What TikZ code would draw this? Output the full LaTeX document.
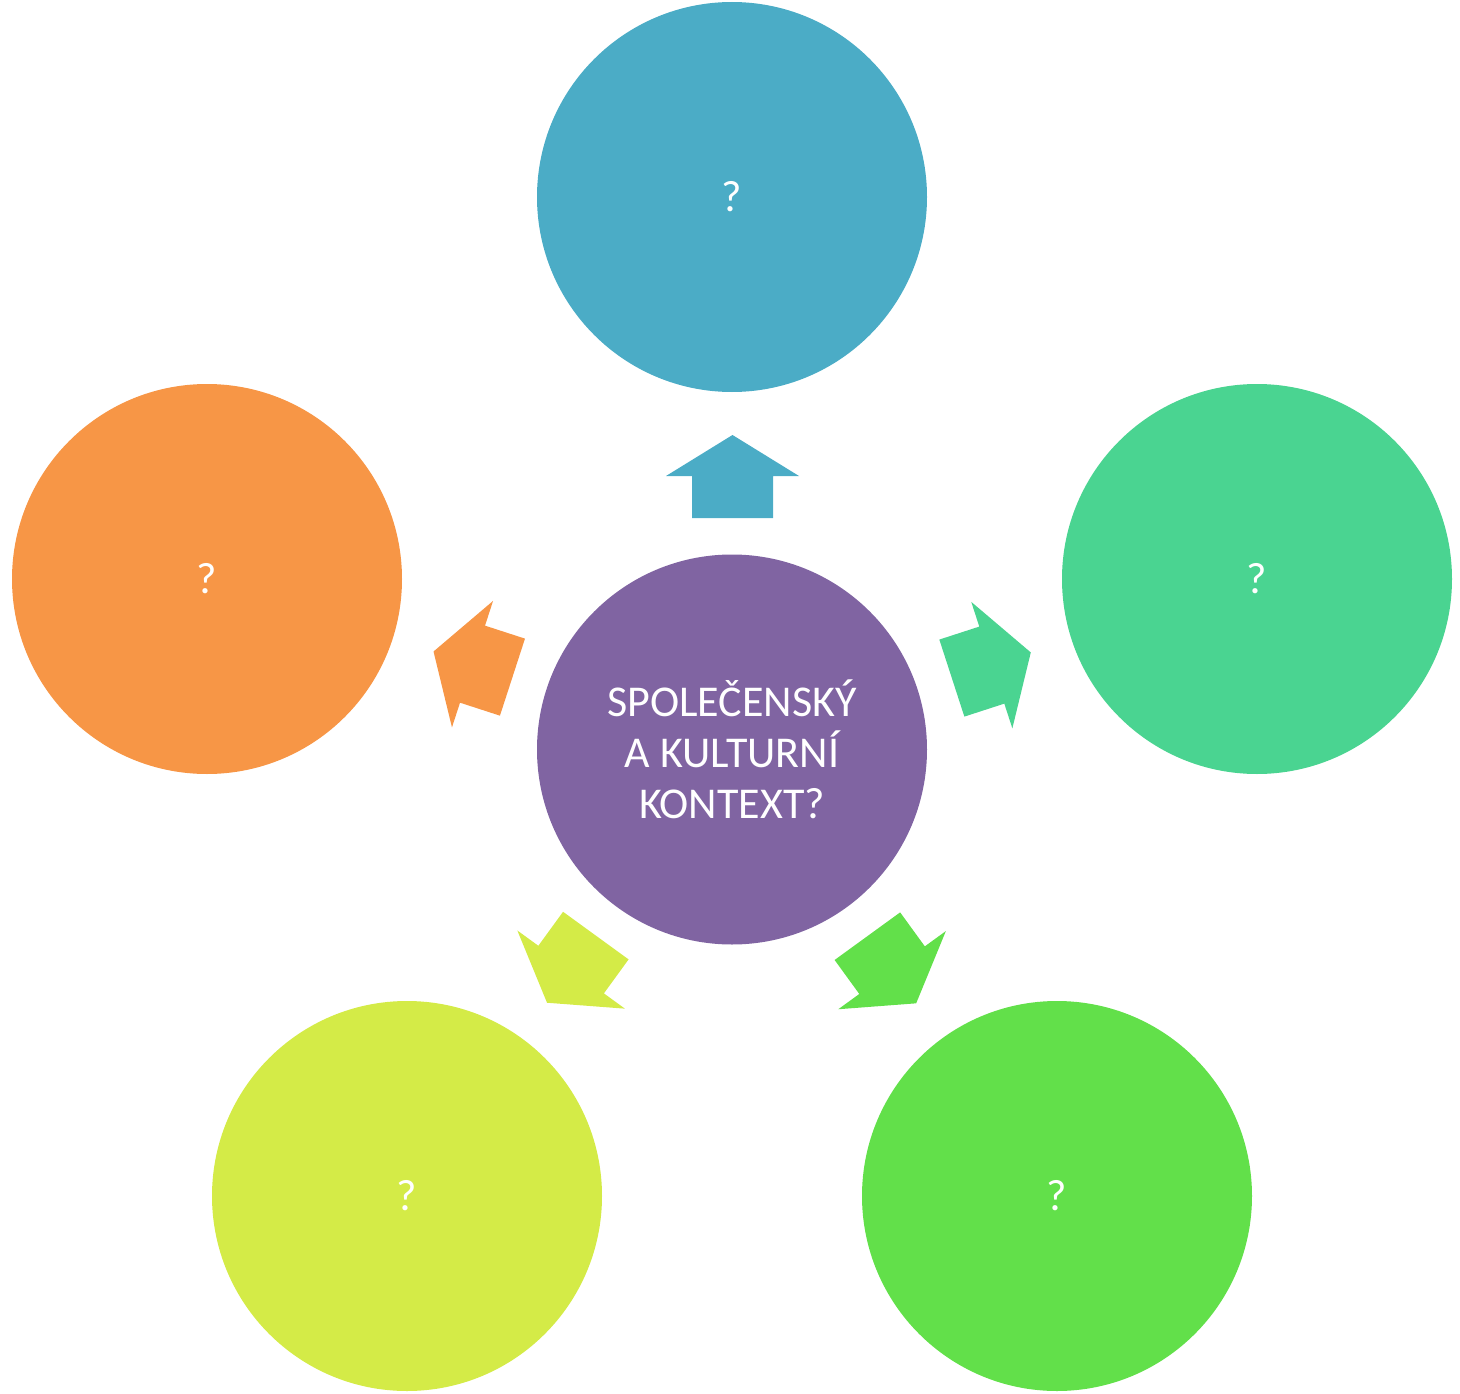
\documentclass[tikz,border=0pt]{standalone}
\usepackage{fontspec}
\setmainfont{Carlito}
\definecolor{cpurple}{RGB}{128,100,162}
\definecolor{caqua}{RGB}{75,172,198}
\definecolor{cteal}{RGB}{74,212,145}
\definecolor{cgreen}{RGB}{98,224,74}
\definecolor{clime}{RGB}{212,235,71}
\definecolor{corange}{RGB}{247,150,70}
\tikzset{
  bubble/.style={circle, minimum size=390pt, inner sep=0pt, text=white,
    font=\fontsize{44}{51}\selectfont, align=center},
  blockarrow/.style={fill=#1, draw=none}
}
\begin{document}
\begin{tikzpicture}[x=1pt,y=-1pt]
\useasboundingbox (0,0) rectangle (1460,1394);
\node[bubble, fill=cpurple] (c) at (732,749.5) {SPOLEČENSKÝ\\A KULTURNÍ\\KONTEXT?};
\node[bubble, fill=caqua] (top) at (732,197) {?};
\node[bubble, fill=cteal] (right) at (1257,579) {?};
\node[bubble, fill=cgreen] (br) at (1057,1196) {?};
\node[bubble, fill=clime] (bl) at (407,1196) {?};
\node[bubble, fill=corange] (left) at (207,579) {?};
\coordinate (o) at (732,749);
\foreach \ang/\col in {0/caqua, -72/cteal, -144/cgreen, 144/clime, 72/corange}{
  \begin{scope}[rotate around={\ang:(o)}]
    \fill[blockarrow=\col] (692,518) -- (692,476) -- (666,476) -- (732.5,435) -- (799,476) -- (773,476) -- (773,518) -- cycle;
  \end{scope}
}
\end{tikzpicture}
\end{document}
